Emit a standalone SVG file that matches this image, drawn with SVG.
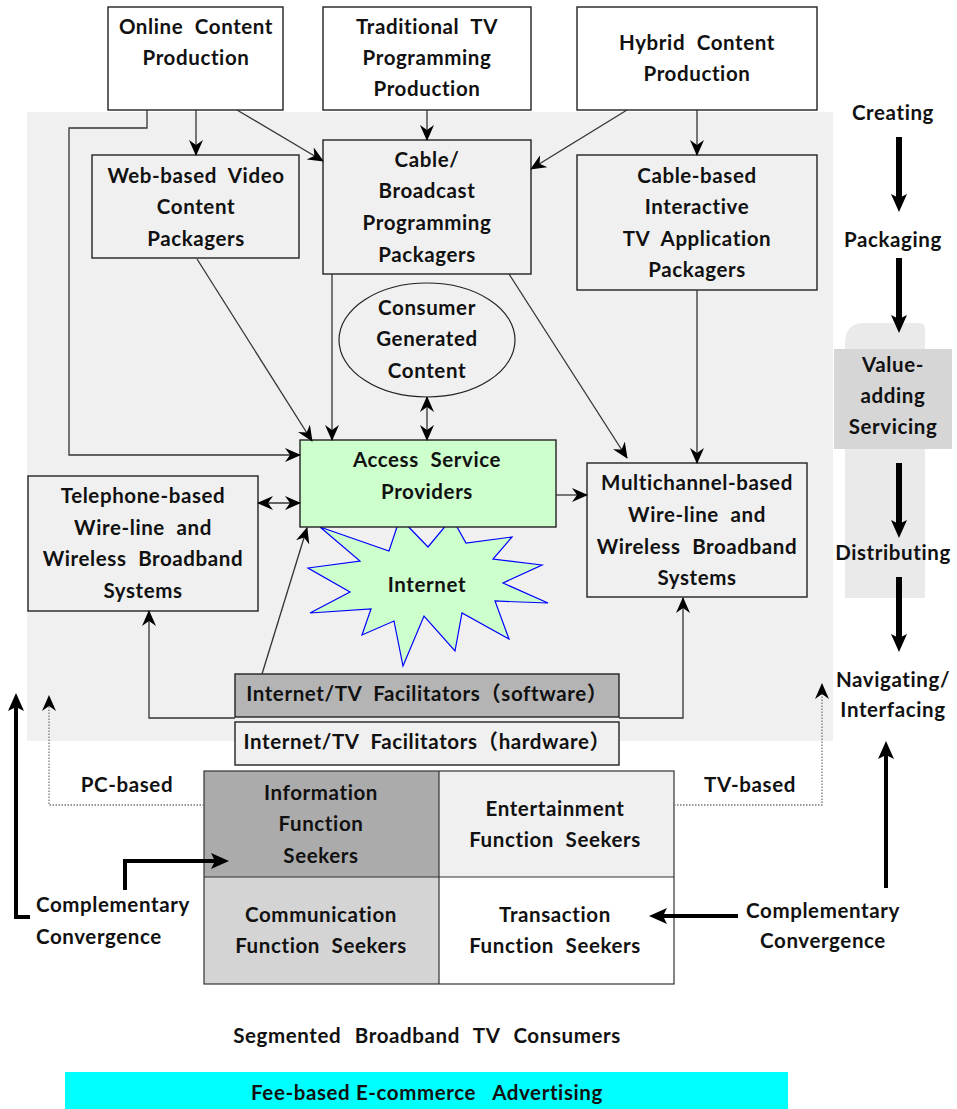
<svg xmlns="http://www.w3.org/2000/svg" width="957" height="1109" viewBox="0 0 957 1109">
<defs>
<style>
.t{font-family:Lato,"Noto Sans CJK SC",sans-serif;font-weight:700;font-size:20.5px;letter-spacing:0.6px;fill:#111;text-anchor:middle;word-spacing:6px}
.tl{text-anchor:start}
.box{stroke:#222;stroke-width:1.4}
.w{fill:#fff}
.g{fill:#f0f0f0}
.c{fill:none;stroke:#333;stroke-width:1.3}
.d{fill:none;stroke:#777;stroke-width:1.3;stroke-dasharray:1.5 1.5}
.k{fill:none;stroke:#000;stroke-width:4}
.kk{fill:none;stroke:#000;stroke-width:6}
</style>
<marker id="a" viewBox="0 0 16 14" refX="15" refY="7" markerWidth="16" markerHeight="14" markerUnits="userSpaceOnUse" orient="auto-start-reverse">
<path d="M0,0 L16,7 L0,14 L5,7 z" fill="#000"/>
</marker>
<marker id="b" viewBox="0 0 18 16" refX="4" refY="8" markerWidth="18" markerHeight="16" markerUnits="userSpaceOnUse" orient="auto">
<path d="M0,0 L18,8 L0,16 L4,8 z" fill="#000"/>
</marker>
</defs>

<rect x="27" y="112" width="806" height="629" fill="#f0f0f0"/>
<path d="M865,323 L919,323 Q925,323 925,329 L925,598 L845,598 L845,343 Q845,323 865,323 z" fill="#eaeaea"/>

<g id="online">
<rect class="box w" x="108" y="7" width="175" height="103"/>
<text class="t" x="196" y="34">Online Content</text>
<text class="t" x="196" y="65">Production</text>
</g>
<g id="traditional">
<rect class="box w" x="323" y="7" width="208" height="103"/>
<text class="t" x="427" y="34">Traditional TV</text>
<text class="t" x="427" y="65">Programming</text>
<text class="t" x="427" y="96">Production</text>
</g>
<g id="hybrid">
<rect class="box w" x="577" y="7" width="240" height="103"/>
<text class="t" x="697" y="50">Hybrid Content</text>
<text class="t" x="697" y="81">Production</text>
</g>
<g id="webbased">
<rect class="box g" x="92" y="155" width="207" height="103"/>
<text class="t" x="196" y="183">Web-based Video</text>
<text class="t" x="196" y="214">Content</text>
<text class="t" x="196" y="246">Packagers</text>
</g>
<g id="cablebroadcast">
<rect class="box g" x="323" y="140" width="208" height="134"/>
<text class="t" x="427" y="167">Cable/</text>
<text class="t" x="427" y="198">Broadcast</text>
<text class="t" x="427" y="230">Programming</text>
<text class="t" x="427" y="262">Packagers</text>
</g>
<g id="cablebased">
<rect class="box g" x="577" y="155" width="240" height="135"/>
<text class="t" x="697" y="183">Cable-based</text>
<text class="t" x="697" y="214">Interactive</text>
<text class="t" x="697" y="246">TV Application</text>
<text class="t" x="697" y="277">Packagers</text>
</g>
<g id="consumer">
<ellipse cx="427" cy="340" rx="88" ry="57" fill="#f0f0f0" stroke="#222" stroke-width="1.2"/>
<text class="t" x="427" y="315">Consumer</text>
<text class="t" x="427" y="346">Generated</text>
<text class="t" x="427" y="378">Content</text>
</g>
<g id="internet">
<polygon points="320,527 389,551 400,518 428,547 452,518 466,543 512,537 493,559 542,565 503,583 548,603 495,601 509,639 462,613 455,651 424,616 403,666 394,621 362,635 371,609 310,613 350,592 308,568 360,561" fill="#ccffcc" stroke="#0000ff" stroke-width="1.2"/>
<text class="t" x="427" y="592">Internet</text>
</g>
<g id="asp">
<rect class="box" x="300" y="440" width="256" height="87" fill="#ccffcc"/>
<text class="t" x="427" y="467">Access Service</text>
<text class="t" x="427" y="499">Providers</text>
</g>
<g id="telephone">
<rect class="box g" x="28" y="476" width="230" height="135"/>
<text class="t" x="143" y="503">Telephone-based</text>
<text class="t" x="143" y="535">Wire-line and</text>
<text class="t" x="143" y="566">Wireless Broadband</text>
<text class="t" x="143" y="598">Systems</text>
</g>
<g id="multichannel">
<rect class="box g" x="587" y="463" width="220" height="134"/>
<text class="t" x="697" y="490">Multichannel-based</text>
<text class="t" x="697" y="522">Wire-line and</text>
<text class="t" x="697" y="554">Wireless Broadband</text>
<text class="t" x="697" y="585">Systems</text>
</g>
<g id="software">
<rect class="box" x="235" y="674" width="384" height="43" fill="#b4b4b4"/>
<text class="t" x="427" y="701">Internet/TV Facilitators（software）</text>
</g>
<g id="hardware">
<rect class="box g" x="235" y="722" width="384" height="43"/>
<text class="t" x="427" y="749">Internet/TV Facilitators（hardware）</text>
</g>
<g id="consumers">
<rect x="204" y="771" width="235" height="106" fill="#ababab"/>
<rect x="439" y="771" width="235" height="106" fill="#f0f0f0"/>
<rect x="204" y="877" width="235" height="107" fill="#d4d4d4"/>
<rect x="439" y="877" width="235" height="107" fill="#fff"/>
<rect x="204" y="771" width="470" height="213" fill="none" stroke="#333" stroke-width="1.2"/>
<line x1="439" y1="771" x2="439" y2="984" stroke="#333" stroke-width="1.2"/>
<line x1="204" y1="877" x2="674" y2="877" stroke="#333" stroke-width="1.2"/>
<text class="t" x="321" y="800">Information</text>
<text class="t" x="321" y="831">Function</text>
<text class="t" x="321" y="863">Seekers</text>
<text class="t" x="555" y="816">Entertainment</text>
<text class="t" x="555" y="847">Function Seekers</text>
<text class="t" x="321" y="922">Communication</text>
<text class="t" x="321" y="953">Function Seekers</text>
<text class="t" x="555" y="922">Transaction</text>
<text class="t" x="555" y="953">Function Seekers</text>
</g>
<g id="labels">
<text class="t" x="127" y="792">PC-based</text>
<text class="t" x="750" y="792">TV-based</text>
<text class="t tl" x="36" y="912">Complementary</text>
<text class="t tl" x="36" y="944">Convergence</text>
<text class="t" x="823" y="918">Complementary</text>
<text class="t" x="823" y="948">Convergence</text>
<text class="t" x="427" y="1043" style="word-spacing:8px">Segmented Broadband TV Consumers</text>
</g>
<g id="stages">
<text class="t" x="893" y="120">Creating</text>
<text class="t" x="893" y="247">Packaging</text>
<rect x="834" y="349" width="118" height="100" fill="#d6d6d6"/>
<text class="t" x="893" y="372">Value-</text>
<text class="t" x="893" y="403">adding</text>
<text class="t" x="893" y="434">Servicing</text>
<text class="t" x="893" y="560">Distributing</text>
<text class="t" x="893" y="687">Navigating/</text>
<text class="t" x="893" y="717">Interfacing</text>
</g>
<g id="revenue">
<rect x="65" y="1072" width="723" height="37" fill="#00ffff"/>
<text class="t" x="427" y="1100" style="word-spacing:0">Fee-based E-commerce&#160;&#160;&#160;Advertising</text>
</g>

<g id="connectors">
<line class="c" x1="196" y1="110" x2="196" y2="155" marker-end="url(#a)"/>
<line class="c" x1="237" y1="110" x2="323" y2="161" marker-end="url(#a)"/>
<polyline class="c" points="147,110 147,128 69,128 69,455 300,455" marker-end="url(#a)"/>
<line class="c" x1="427" y1="110" x2="427" y2="140" marker-end="url(#a)"/>
<line class="c" x1="627" y1="110" x2="531" y2="169" marker-end="url(#a)"/>
<line class="c" x1="697" y1="110" x2="697" y2="155" marker-end="url(#a)"/>
<line class="c" x1="197" y1="259" x2="312" y2="441" marker-end="url(#a)"/>
<line class="c" x1="332" y1="274" x2="332" y2="440" marker-end="url(#a)"/>
<line class="c" x1="427" y1="397" x2="427" y2="440" marker-start="url(#a)" marker-end="url(#a)"/>
<line class="c" x1="509" y1="274" x2="627" y2="458" marker-end="url(#a)"/>
<line class="c" x1="697" y1="290" x2="697" y2="463" marker-end="url(#a)"/>
<line class="c" x1="556" y1="495" x2="587" y2="495" marker-end="url(#a)"/>
<line class="c" x1="258" y1="503" x2="300" y2="503" marker-start="url(#a)" marker-end="url(#a)"/>
<line class="c" x1="262" y1="674" x2="307" y2="528" marker-end="url(#a)"/>
<polyline class="c" points="235,718 149,718 149,611" marker-end="url(#a)"/>
<polyline class="c" points="619,718 683,718 683,598" marker-end="url(#a)"/>
<polyline class="d" points="204,805 49,805 49,696" marker-end="url(#a)"/>
<polyline class="d" points="674,805 822,805 822,684" marker-end="url(#a)"/>
<polyline class="k" points="30,917 16,917 16,707" marker-end="url(#b)"/>
<polyline class="k" points="125,890 125,861 215,861" marker-end="url(#b)"/>
<line class="k" x1="738" y1="916" x2="663" y2="916" marker-end="url(#b)"/>
<line class="k" x1="886" y1="888" x2="886" y2="755" marker-end="url(#b)"/>
<line class="kk" x1="899" y1="137" x2="899" y2="198" marker-end="url(#b)"/>
<line class="kk" x1="899" y1="258" x2="899" y2="319" marker-end="url(#b)"/>
<line class="kk" x1="899" y1="463" x2="899" y2="524" marker-end="url(#b)"/>
<line class="kk" x1="899" y1="577" x2="899" y2="638" marker-end="url(#b)"/>
</g>
</svg>
